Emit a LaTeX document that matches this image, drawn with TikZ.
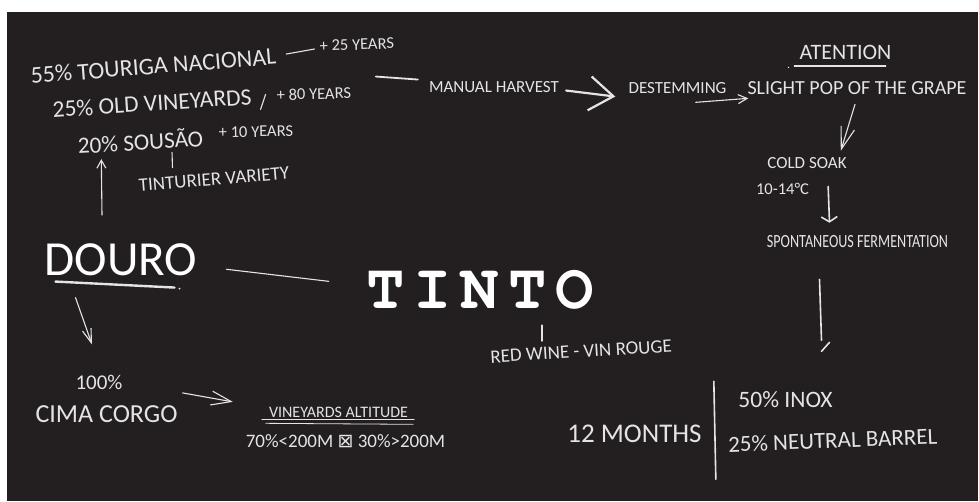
\documentclass[tikz,border=0pt]{standalone}
\usepackage{fontspec}
\setmainfont{Carlito}
\newfontfamily\typewriter{TeX Gyre Cursor}
\newfontfamily\symbolfont{DejaVu Sans}
\usepackage{tikz}
\usetikzlibrary{arrows.meta,calc}
\definecolor{board}{HTML}{231F20}
\definecolor{chalk}{HTML}{E4E4E4}

\begin{document}
\begin{tikzpicture}[x=1pt, y=-1pt,
        chalktext/.style={text=chalk, inner sep=0pt, anchor=base},
        fsize/.style={font=\fontsize{#1}{#1}\selectfont},
        stroke/.style={draw=chalk, line width=1.1pt, line cap=round},
        arrowhead/.style 2 args={-{Straight Barb[length=#1, width=#2]}}
    ]
        \useasboundingbox (0,0) rectangle (979,501);
        \fill [board] (7,12) rectangle (978,501);

        % grape varieties
        \node [chalktext, fsize=24, rotate=4.6] (touriga) at (154,74) {55\% TOURIGA NACIONAL};
        \node [chalktext, fsize=16.5, rotate=2] (years25) at (357,50) {+ 25 YEARS};
        \node [chalktext, fsize=23.6, rotate=3.8] (oldvines) at (152.5,111) {25\% OLD VINEYARDS};
        \node [chalktext, fsize=16.5, rotate=1.5] (years80) at (314,99.5) {+ 80 YEARS};
        \node [chalktext, fsize=23.2, rotate=3.4] (sousao) at (141,150) {20\% SOUSÃO};
        \node [chalktext, fsize=16.5, rotate=1] (years10) at (256,137) {+ 10 YEARS};
        \node [chalktext, fsize=19, rotate=4.7] (tinturier) at (214.5,185) {TINTURIER VARIETY};

        % region
        \node [chalktext, fsize=49, text=white] (douro) at (121,275) {DOURO};
        \node [chalktext, fsize=21] (pct100) at (99,389) {100\%};
        \node [chalktext, fsize=26] (cima) at (106.5,422) {CIMA CORGO};
        \node [chalktext, fsize=16] (altitude) at (338.5,417) {VINEYARDS ALTITUDE};
        \node [chalktext, fsize=19] (split) at (345.5,447) {70\%<200M {\symbolfont ⊠} 30\%>200M};

        % wine
        \node [chalktext, text=white, font=\typewriter\bfseries\fontsize{64}{64}\selectfont] (tinto) at (480,308) {T\kern9pt I\kern9pt N\kern9pt T\kern9pt O};
        \node [chalktext, fsize=19, rotate=3.5] (redwine) at (581.5,357.5) {RED WINE - VIN ROUGE};

        % process
        \node [chalktext, fsize=17] (harvest) at (494,92) {MANUAL HARVEST};
        \node [chalktext, fsize=17] (destem) at (677.5,93) {DESTEMMING};
        \node [chalktext, fsize=20] (grape) at (857,94) {SLIGHT POP OF THE GRAPE};
        \node [chalktext, fsize=22] (atention) at (845.5,59) {ATENTION};
        \node [chalktext, fsize=17] (cold) at (807,168) {COLD SOAK};
        \node [chalktext, fsize=16.5] (temp) at (782.5,194) {10-14°C};
        \node [chalktext, fsize=18.6] (spont) at (857.5,247) {\scalebox{0.76}[1]{SPONTANEOUS FERMENTATION}};

        % ageing
        \node [chalktext, fsize=27] (months) at (634.5,442) {12 MONTHS};
        \node [chalktext, fsize=23.5] (inox) at (785.5,407) {50\% INOX};
        \node [chalktext, fsize=23, rotate=2.2] (barrel) at (833,448) {25\% NEUTRAL BARREL};

        % connectors
        \draw [stroke] ($(touriga.east)+(10,-2)$) -- ($(years25.west)+(-5,3)$);
        \draw [stroke] ($(oldvines.east)+(9,13)$) -- ++(5,-15);
        \draw [stroke] ($(sousao.south)+(31,2)$) -- ($(tinturier.north)+(-41,-5)$);
        \draw [stroke, arrowhead={8pt}{9pt}] ($(douro.north)+(-19,-28)$) -- ($(sousao.south west)+(23,5)$);
        \draw [stroke] ($(douro.east)+(29,10)$) -- ($(tinto.west)+(-37,-8)$);
        \draw [stroke, arrowhead={14pt}{9pt}] ($(douro.south west)+(31,22)$) -- ($(pct100.north)+(-7,-30)$);
        \draw [stroke, arrowhead={20pt}{14pt}] ($(cima.north east)+(5,-12)$) -- ($(altitude.west)+(-36,-10)$);
        \draw [stroke] ($(tinto.south)+(62,16)$) -- ++(0,16);
        \draw [stroke, line width=1.8pt] ($(harvest.west)+(-53,-10)$) -- ($(harvest.west)+(-11,-7)$);
        \draw [stroke, line width=2.2pt, arrowhead={24pt}{34pt}] ($(harvest.east)+(7,4)$) -- ($(destem.west)+(-13,9)$);
        \draw [stroke, arrowhead={9pt}{9pt}] ($(destem.south east)+(-31,9)$) -- ($(grape.south west)+(1,4)$);
        \draw [stroke, arrowhead={22pt}{14pt}] ($(grape.south)+(-2,10)$) -- ($(cold.north east)+(-6,-6)$);
        \draw [stroke, line width=1.6pt, arrowhead={5pt}{16pt}] ($(temp.east)+(19,-2)$) -- ($(spont.north)+(-28,-12)$);
        \draw [stroke, line width=1.6pt] ($(spont.south)+(-38,32)$) -- ++(2,61) ++(0,11) -- ++(8,-9);
        \draw [stroke, line width=1.6pt] ($(months.east)+(12,-52)$) -- ++(2,98);

        % underlines
        \draw [stroke, line width=2.4pt] ($(douro.south west)+(11,6)$) -- ($(douro.south east)+(-23,12)$);
        \fill [chalk] ($(douro.south east)+(-18,13)$) circle (1pt);
        \draw [stroke, line width=1.8pt] ($(atention.south west)+(-5,7)$) -- ($(atention.south east)+(-6,7)$);
        \fill [chalk] ($(atention.south west)+(-11,8)$) circle (0.8pt);
        \draw [stroke, line width=0.8pt] ($(altitude.south west)+(-7,2)$) -- ($(altitude.south east)+(6,2)$);
        \draw [stroke, line width=0.8pt] ($(altitude.south west)+(-3,6)$) -- ($(altitude.south east)+(5,7)$);
    \end{tikzpicture}
\end{document}
